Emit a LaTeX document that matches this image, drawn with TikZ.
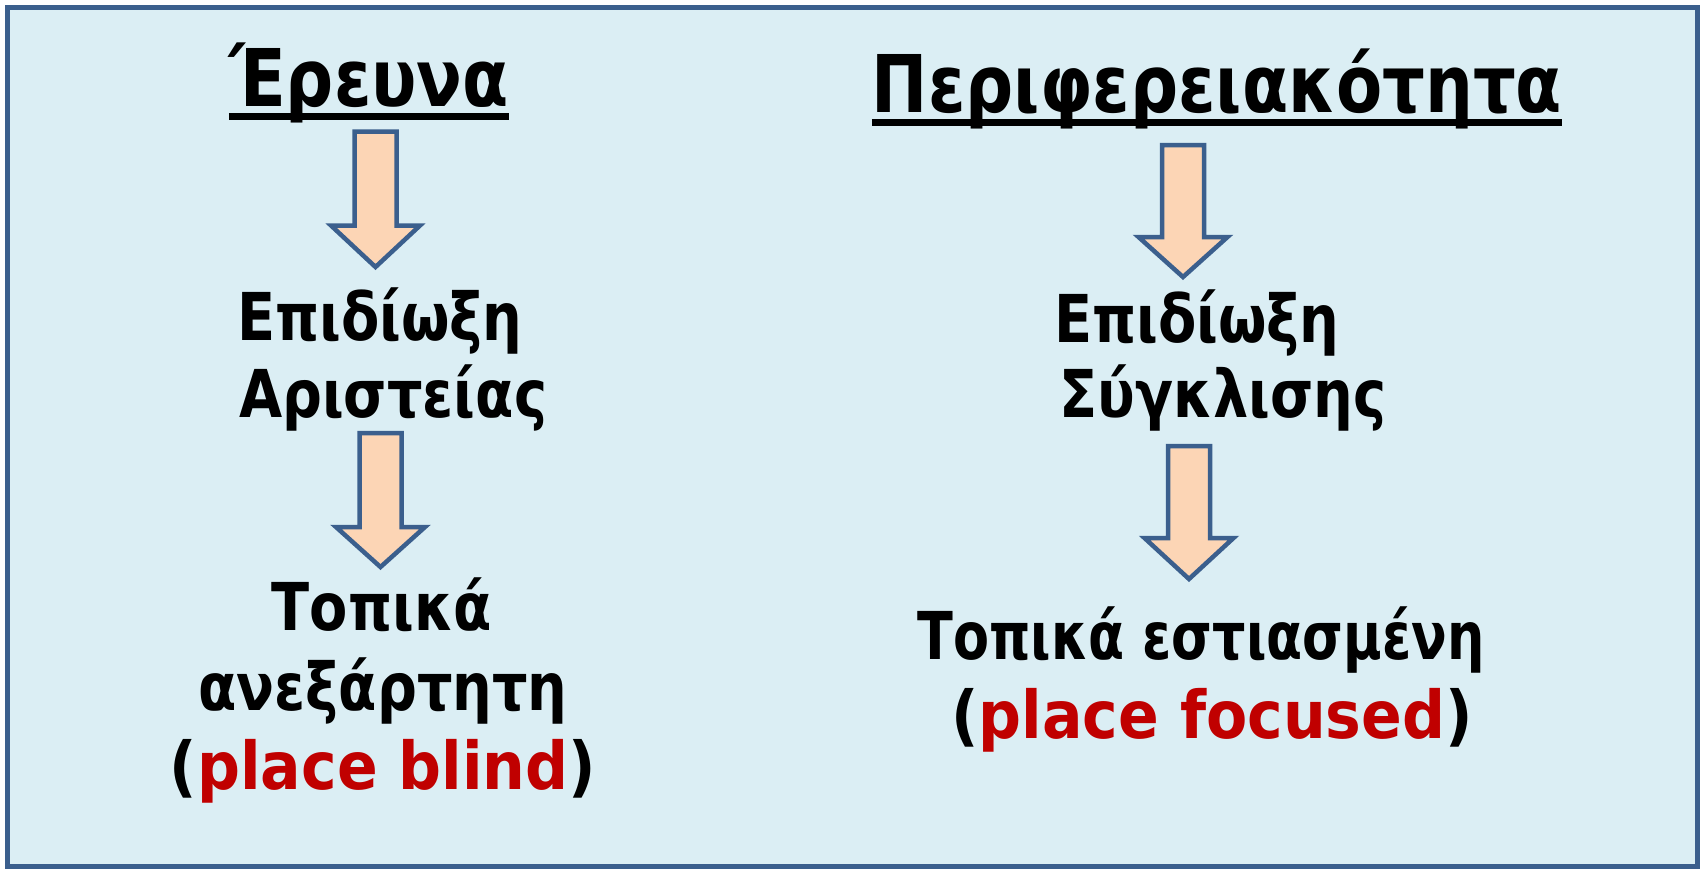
\documentclass[tikz,border=0pt]{standalone}
\usepackage{fontspec}
\setmainfont{DejaVu Sans}[FakeStretch=0.845]
\newfontfamily\latinf{DejaVu Sans}[FakeStretch=0.91]
\newfontfamily\narrowf{DejaVu Sans}[FakeStretch=0.795]
\definecolor{bgblue}{HTML}{DBEEF4}
\definecolor{framecol}{HTML}{3B5F8D}
\definecolor{arrowfill}{HTML}{FCD5B5}
\definecolor{redtxt}{HTML}{C00000}
\tikzset{
  frame/.style={draw=framecol, fill=bgblue, line width=5pt},
  titletxt/.style={anchor=base, inner sep=0pt, font=\bfseries\fontsize{79.6}{90}\selectfont},
  bodytxt/.style={anchor=base, inner sep=0pt, font=\bfseries\fontsize{66}{80}\selectfont},
  ulinestyle/.style={line width=6.5pt},
  blockarrow/.style={draw=framecol, fill=arrowfill, line width=4.5pt, line join=miter}
}
% block arrow: cx, top, head base, tip
\newcommand\downblock[4]{%
  \draw[blockarrow] (#1-21,#2) -- (#1+21,#2) -- (#1+21,#3) -- (#1+44.5,#3)
     -- (#1,#4) -- (#1-44.5,#3) -- (#1-21,#3) -- cycle;}
\begin{document}
\begin{tikzpicture}[x=1pt,y=-1pt]
\useasboundingbox (0,0) rectangle (1700,868);
\fill[white] (0,0) rectangle (1700,868);
\draw[frame] (7.5,7.5) rectangle (1697.5,866.5);

% titles
\node[titletxt] (t1) at (369,106) {Έρευνα};
\node[titletxt] (t2) at (1217,112) {Περιφερειακότητα};
\draw[ulinestyle] ([yshift=-10.5pt]t1.base west) -- ([yshift=-10.5pt]t1.base east);
\draw[ulinestyle] ([yshift=-10.5pt]t2.base west) -- ([yshift=-10.5pt]t2.base east);

% left column
\node[bodytxt] (l1a) at (380,340) {Επιδίωξη};
\node[bodytxt] (l1b) at (393,417) {Αριστείας};
\node[bodytxt] (l2a) at (382,630) {Τοπικά};
\node[bodytxt] (l2b) at (383,710) {ανεξάρτητη};
\node[bodytxt] (l2c) at (383,789) {\latinf(\textcolor{redtxt}{place blind})};

% right column
\node[bodytxt] (r1a) at (1197,342) {Επιδίωξη};
\node[bodytxt] (r1b) at (1223,417) {Σύγκλισης};
\node[bodytxt] (r2a) at (1201,659) {\narrowf Τοπικά εστιασμένη};
\node[bodytxt] (r2b) at (1212,738) {\latinf(\textcolor{redtxt}{place focused})};

% arrows
\downblock{375.5}{131.5}{225.5}{267}
\downblock{380.5}{433}{527}{567}
\downblock{1183}{145}{237}{277}
\downblock{1189}{446}{538}{579}
\end{tikzpicture}
\end{document}
